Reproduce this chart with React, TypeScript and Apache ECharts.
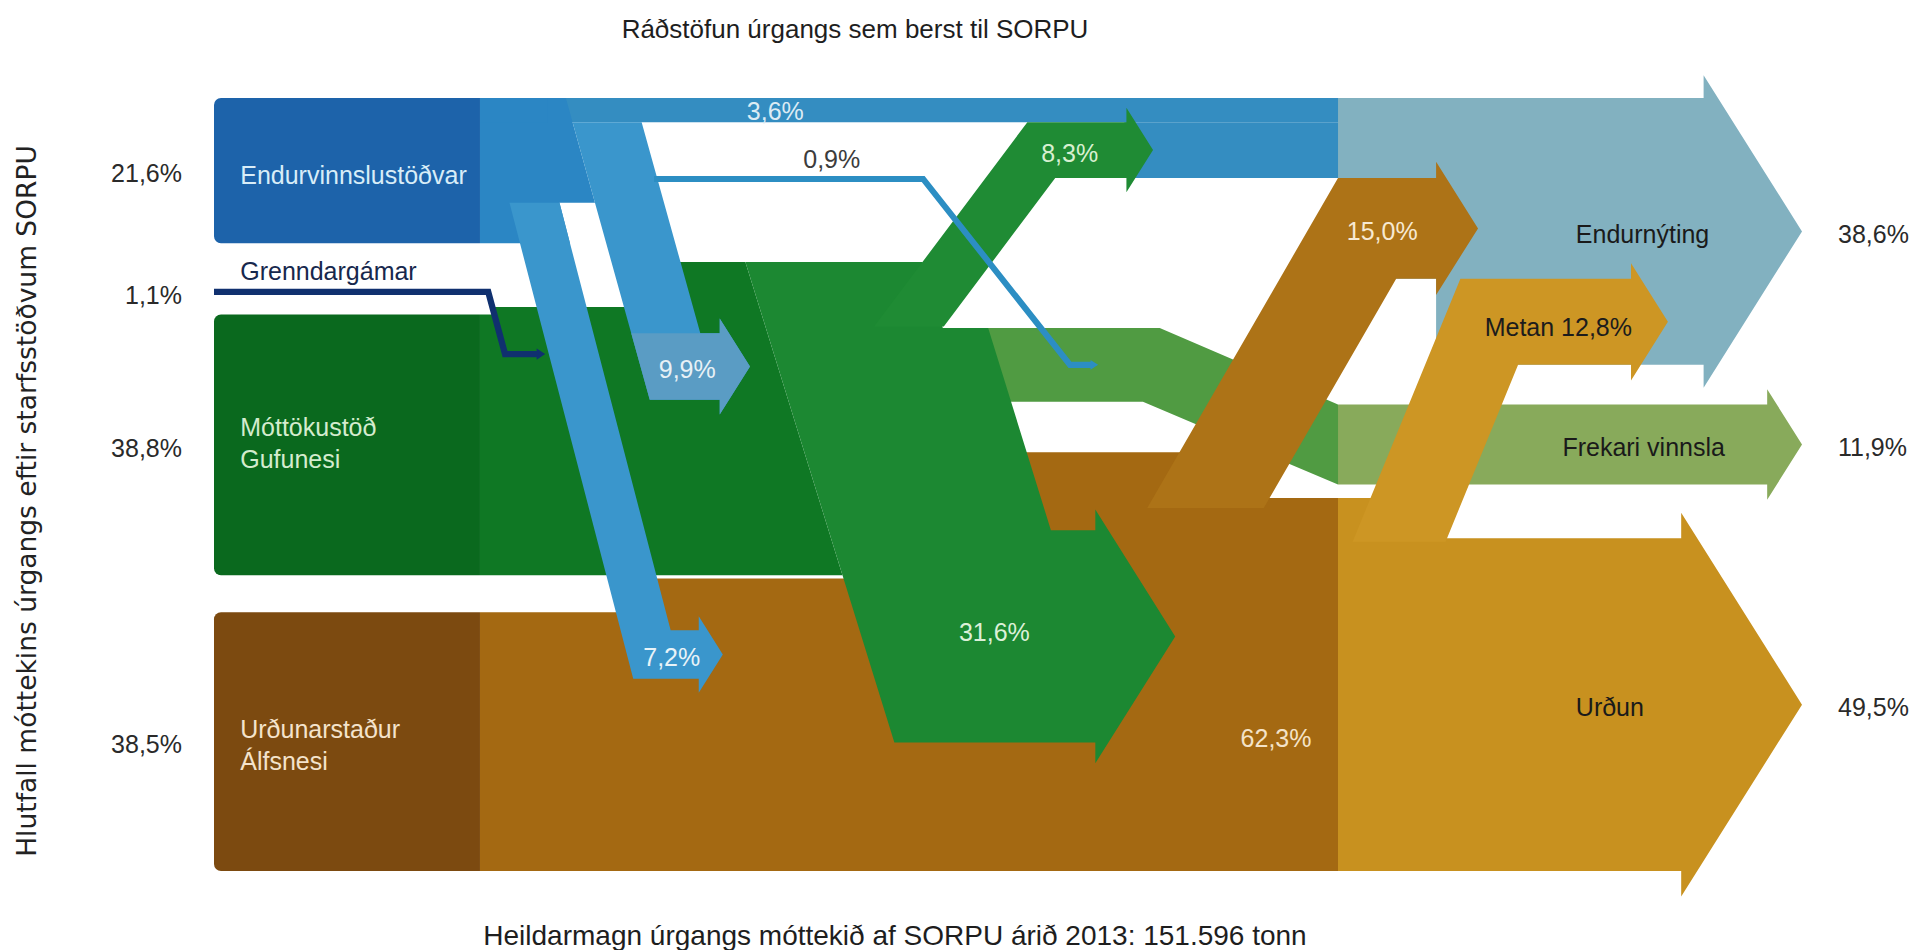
import React, { useEffect, useRef } from "react";
import * as echarts from "echarts";

// ---------------- DATA ----------------
const TITLE_TOP = "Ráðstöfun úrgangs sem berst til SORPU";
const TITLE_BOTTOM = "Heildarmagn úrgangs móttekið af SORPU árið 2013: 151.596 tonn";
const TITLE_LEFT = "Hlutfall móttekins úrgangs eftir starfsstöðvum SORPU";

const SOURCE_NAMES = ["Endurvinnslustöðvar", "Grenndargámar", "Móttökustöð\nGufunesi", "Urðunarstaður\nÁlfsnesi"];
const SOURCE_SHARES = [21.6, 1.1, 38.8, 38.5];

// Endurvinnslustöðvar -> [Endurnýting, Frekari vinnsla, Gufunes, Álfsnes]
const ENDURVINNSLA_FLOWS = [3.6, 0.9, 9.9, 7.2];
// Grenndargámar -> [Gufunes]
const GRENNDAR_FLOWS = [1.1];
// Gufunes -> [Endurnýting, Frekari vinnsla, Álfsnes]
const GUFUNES_FLOWS = [8.3, 11.0, 31.6];
// Álfsnes -> [Endurnýting, Metan, Urðun]
const ALFSNES_FLOWS = [15.0, 12.8, 49.5];
const ALFSNES_FLOW_NAMES = ["", "Metan", ""];
const ALFSNES_REMAINING = [62.3];

const OUTCOME_NAMES = ["Endurnýting", "Frekari vinnsla", "Urðun"];
const OUTCOME_SHARES = [38.6, 11.9, 49.5];

// ---------------- LAYOUT / STYLE ----------------
const L = {
  gridLeft: 214, gridTop: 98, gridHeight: 773, xMax: 245,
  gapsLeft: [6.7, 2.8, 5.5],
  gapRight1: 5.9,
  xDark: 39.57, xLight: 167.22, xTip: 236.25,
  slotDy: 6.0,
  d7: { x0: 45.52, s: 0.26, bodyDy: 2.7, tip: 75.7 },
  d9: { x0: 56.68, s: 0.278, bodyDy: 2.8, tip: 79.74 },
  line09: { dy: 8.45, x1: 105.5, x2: 127.35, x3: 130.6 },
  gren: { x1: 40.8, x2: 43.3, dropDy: 5.9, x3: 48.2, gx: 41.8 },
  hubRise: 7.8, hubLeft: 62,
  d31: { x0: 93.5, s: 0.31, bodyDy: -12.2, tip: 143.0 },
  d8: { x0: 121.0, s: -0.75, tip: 139.7, bottomDy: 9.6 },
  frek: { dy: 9.8, xTop: 140.7, xBot: 138.2 },
  brown: { x1: 65, x2: 100, x3: 150, gapBelowFrek: 2.0, gapBelowM: 0.5 },
  d15: { s: -0.578, tip: 188.05, bottomY: 61 },
  dM: { x0: 169.6, s: -0.41, tip: 216.3 },
  head: { ratio: 1.08, pad: 1.8, len: 0.63 },
  outcomeLabelX: [202.6, 200.6, 202.6],
};

const C = {
  blueDark: "#1d63aa", blueMid: "#2b86c4", blueStrip: "#348dc1", blueDiag: "#3a96cc", blueArrow: "#5a9cc4",
  blueLight: "#82b1c0",
  greenDark: "#0a691e", greenMid: "#0f7824", greenHub: "#1c8832", green83: "#1f8b34",
  frekMid: "#509b42", frekLight: "#88aa5b",
  brownDark: "#7c4a10", brownMid: "#a46912", brown15: "#ad7317", golden: "#c8911f", metan: "#cd9624",
  navy: "#10306f", line09: "#2c8ec3",
};

const FONT = "Liberation Sans, Arial, sans-serif";
const pct = (v: number) => v.toFixed(1).replace(".", ",") + "%";

function renderItem(params: any, api: any) {
  const P = (x: number, y: number) => api.coord([x, y]);
  const K = api.size([0, 1])[1];
  const poly = (pts: number[][], fill: string) => ({
    type: "polygon",
    shape: { points: pts.map((p) => P(p[0], p[1])) },
    style: { fill },
  });
  const rrect = (x0: number, y0: number, x1: number, y1: number, fill: string) => {
    const a = P(x0, y0), b = P(x1, y1);
    return { type: "rect", shape: { x: a[0], y: a[1], width: b[0] - a[0], height: b[1] - a[1], r: [7, 0, 0, 7] }, style: { fill } };
  };
  const line = (pts: number[][], width: number, stroke: string) => ({
    type: "polyline",
    shape: { points: pts.map((p) => P(p[0], p[1])) },
    style: { stroke, lineWidth: width * K, fill: null, lineJoin: "miter", lineCap: "butt" },
  });
  const tinyHead = (x: number, y: number, half: number, fill: string) =>
    poly([[x - 0.2, y - half], [x + half * 1.3, y], [x - 0.2, y + half]], fill);
  const text = (x: number, y: number, t: string, fill: string, align = "center", size = 25, lh?: number) => {
    const p = P(x, y);
    return {
      type: "text", x: p[0], y: p[1],
      style: { text: t, fill, fontSize: size, fontFamily: FONT, align, textAlign: align, verticalAlign: "middle", textVerticalAlign: "middle", lineHeight: lh },
    };
  };
  const head = (top: number, bot: number, tip: number) => {
    const c = (top + bot) / 2;
    const hh = ((bot - top) / 2) * L.head.ratio + L.head.pad;
    const base = tip - L.head.len * hh;
    return { base, pts: [[base, top], [base, c - hh], [tip, c], [base, c + hh], [base, bot]] };
  };
  const sq = (s: number) => Math.sqrt(1 + s * s);

  // left stack
  const [eS, gS, mS, aS] = SOURCE_SHARES;
  const E_top = 0, E_bot = eS;
  const G_top = E_bot + L.gapsLeft[0], G_bot = G_top + gS;
  const M_top = G_bot + L.gapsLeft[1], M_bot = M_top + mS;
  const A_top = M_bot + L.gapsLeft[2], A_bot = A_top + aS;
  const YMAX = A_bot;

  const [e2end, e2frek, e2guf, e2alf] = ENDURVINNSLA_FLOWS;
  const [g2end, g2frek, g2alf] = GUFUNES_FLOWS;
  const [a2end, a2met, a2urd] = ALFSNES_FLOWS;

  // right stack (arrivals into Endurnýting)
  const s1 = E_top + e2end, s2 = s1 + g2end, s3 = s2 + a2end, s4 = s3 + a2met;
  const F_top = s4 + L.gapRight1, F_bot = F_top + OUTCOME_SHARES[1];
  const U_top = YMAX - a2urd, U_bot = YMAX;

  const XD = L.xDark, XL = L.xLight, XT = L.xTip;
  const slotTop = E_bot - L.slotDy;

  const w7 = e2alf * sq(L.d7.s);
  const L7 = (y: number) => L.d7.x0 + L.d7.s * (y - E_bot);
  const R7 = (y: number) => L7(y) + w7;
  const w9 = e2guf * sq(L.d9.s);
  const L9 = (y: number) => L.d9.x0 + L.d9.s * (y - slotTop);
  const R9 = (y: number) => L9(y) + w9;
  const w31 = g2alf * sq(L.d31.s);
  const L31 = (y: number) => L.d31.x0 + L.d31.s * (y - M_bot);
  const R31 = (y: number) => L31(y) + w31;
  const w8 = g2end * sq(L.d8.s);
  const L8 = (y: number) => L.d8.x0 + L.d8.s * (y - s1);
  const R8 = (y: number) => L8(y) + w8;
  const w15 = a2end * sq(L.d15.s);
  const L15 = (y: number) => XL + L.d15.s * (y - s2);
  const R15 = (y: number) => L15(y) + w15;
  const wM = a2met * sq(L.dM.s);
  const ML = (y: number) => L.dM.x0 + L.dM.s * (y - U_top);
  const MR = (y: number) => ML(y) + wM;

  const hubTop = M_top - L.hubRise;
  const FT = hubTop + L.frek.dy, FB = FT + g2frek;
  const BT9 = M_top + L.d9.bodyDy, BB9 = BT9 + e2guf;
  const BT7 = A_top + L.d7.bodyDy, BB7 = BT7 + e2alf;
  const Y31 = A_top + L.d31.bodyDy, Y31b = Y31 + g2alf;
  const brownTopMid = YMAX - ALFSNES_REMAINING[0];
  const brownTopRight = F_bot + L.brown.gapBelowFrek;

  const hE = head(E_top, s4, XT);
  const hF = head(F_top, F_bot, XT);
  const hU = head(U_top, U_bot, XT);
  const h31 = head(Y31, Y31b, L.d31.tip);
  const h8 = head(s1, s2, L.d8.tip);
  const h9 = head(BT9, BB9, L.d9.tip);
  const h7 = head(BT7, BB7, L.d7.tip);
  const h15 = head(s2, s3, L.d15.tip);
  const hM = head(s3, s4, L.dM.tip);

  const y09 = s1 + L.line09.dy;
  const y09end = (FT + FB) / 2;
  const gC = (G_top + G_bot) / 2;
  const gDrop = M_top + L.gren.dropDy;
  const d8b = hubTop + L.d8.bottomDy;

  const children: any[] = [
    // Álfsnes hub
    poly([[XD, A_top], [L.brown.x1, A_top], [L.brown.x1, M_bot + L.brown.gapBelowM], [L.brown.x2, M_bot + L.brown.gapBelowM],
      [L.brown.x2, brownTopMid], [L.brown.x3, brownTopMid], [L.brown.x3, brownTopRight], [XL, brownTopRight], [XL, YMAX], [XD, YMAX]], C.brownMid),
    rrect(0, A_top, XD, A_bot, C.brownDark),
    // Urðun
    poly([[XL, brownTopRight], [ML(brownTopRight) + 3, brownTopRight], [ML(U_top) + 3, U_top], ...hU.pts, [XL, U_bot]], C.golden),
    // Frekari vinnsla destination
    poly([[XL, F_top], ...hF.pts, [XL, F_bot]], C.frekLight),
    // Endurnýting destination
    poly([[XL, E_top], ...hE.pts, [h15.base, s4], [h15.base, s3], [XL, s3]], C.blueLight),
    // Gufunes
    poly([[XD, M_top], [L.gren.gx, M_top], [L.gren.gx, M_top - GRENNDAR_FLOWS[0]], [L.hubLeft, M_top - GRENNDAR_FLOWS[0]],
      [L.hubLeft, hubTop], [L31(hubTop), hubTop], [L31(M_bot), M_bot], [XD, M_bot]], C.greenMid),
    rrect(0, M_top, XD, M_bot, C.greenDark),
    poly([[R31(FT) - 0.5, FT], [L.frek.xTop, FT], [XL, F_top], [XL, F_bot], [L.frek.xBot, FB], [R31(FB) - 0.5, FB]], C.frekMid),
    poly([[L31(hubTop), hubTop], [L8(hubTop), hubTop], [R8(FT), FT], [R31(FT), FT], [R31(Y31), Y31], ...h31.pts, [L31(Y31b), Y31b]], C.greenHub),
    // teal strip into Endurnýting
    poly([[XD, E_top], [XL, E_top], [XL, s1], [XD, s1]], C.blueStrip),
    poly([[h8.base - 0.3, s1], [XL, s1], [XL, s2], [h8.base - 0.3, s2]], C.blueStrip),
    // 8,3% arrow
    poly([[L8(d8b), d8b], [L8(s1), s1], ...h8.pts, [R8(s2), s2], [R8(d8b), d8b]], C.green83),
    // Endurvinnslustöðvar source
    poly([[XD, E_top], [L9(E_top), E_top], [L9(slotTop), slotTop], [R7(slotTop), slotTop], [R7(E_bot), E_bot], [XD, E_bot]], C.blueMid),
    poly([[XD, E_top], [XD + 10, E_top], [XD + 10, s1], [XD, s1]], C.blueMid),
    rrect(0, E_top, XD, E_bot, C.blueDark),
    // 7,2% arrow
    poly([[L7(slotTop), slotTop], [R7(slotTop), slotTop], [R7(BT7), BT7], ...h7.pts, [L7(BB7), BB7]], C.blueDiag),
    // 9,9% arrow
    poly([[L9(s1), s1], [R9(s1), s1], [R9(BT9), BT9], ...h9.pts, [L9(BB9), BB9]], C.blueDiag),
    poly([[L9(BT9), BT9], ...h9.pts, [L9(BB9), BB9]], C.blueArrow),
    // 15,0% arrow
    poly([[L15(L.d15.bottomY), L.d15.bottomY], [L15(s2), s2], ...h15.pts, [R15(s3), s3], [R15(L.d15.bottomY), L.d15.bottomY]], C.brown15),
    // Metan arrow
    poly([[ML(U_top + 0.5), U_top + 0.5], [ML(s3), s3], ...hM.pts, [MR(s4), s4], [MR(U_top + 0.5), U_top + 0.5]], C.metan),
    // thin flows
    line([[0, gC], [L.gren.x1, gC], [L.gren.x2, gDrop], [L.gren.x3, gDrop]], GRENNDAR_FLOWS[0] * 0.85, C.navy),
    tinyHead(L.gren.x3, gDrop, GRENNDAR_FLOWS[0] * 0.75, C.navy),
    line([[R9(y09) - 0.5, y09], [L.line09.x1, y09], [L.line09.x2, y09end], [L.line09.x3, y09end]], e2frek, C.line09),
    tinyHead(L.line09.x3, y09end, e2frek * 0.8, C.line09),
  ];

  const dy = 0.4;
  // flow labels
  children.push(
    text(83.5, (E_top + s1) / 2 + 0.2, pct(e2end), "#dcebf4"),
    text(91.9, y09 - 3.0, pct(e2frek), "#3c3c3c"),
    text(70.4, (BT9 + BB9) / 2 + dy, pct(e2guf), "#e8f1f6"),
    text(68.1, (BT7 + BB7) / 2 + dy, pct(e2alf), "#e8f3f8"),
    text(127.3, (s1 + s2) / 2 + dy, pct(g2end), "#d8f0d0"),
    text(116.1, (Y31 + Y31b) / 2 - 0.6, pct(g2alf), "#dcf0d8"),
    text(173.8, (s2 + s3) / 2 + dy, pct(a2end), "#f7e9d2"),
    text(200.0, (s3 + s4) / 2 + 0.8, ALFSNES_FLOW_NAMES[1] + " " + pct(a2met), "#1c1c1c"),
    text(158.0, 95.2, pct(ALFSNES_REMAINING[0]), "#f4e3c8"),
  );
  // source names + shares
  const srcCenters = [(E_top + E_bot) / 2, gC, (M_top + M_bot) / 2, (A_top + A_bot) / 2];
  const srcColors = ["#d8edf8", "#17284d", "#d4ecce", "#f4e3cc"];
  const srcY = [srcCenters[0] + 0.6, G_top - 2.6, srcCenters[2] - 0.3, srcCenters[3] + 0.5];
  SOURCE_NAMES.forEach((n, i) => {
    children.push(text(3.9, srcY[i], n, srcColors[i], "left", 25, 32));
    children.push(text(-4.76, srcCenters[i] + dy, pct(SOURCE_SHARES[i]), "#2a2a2a", "right"));
  });
  // outcomes
  const outCenters = [(E_top + s4) / 2, (F_top + F_bot) / 2, (U_top + U_bot) / 2];
  OUTCOME_NAMES.forEach((n, i) => {
    children.push(text(L.outcomeLabelX[i], outCenters[i] + dy, n, "#1a1a1a", "left"));
    children.push(text(241.6, outCenters[i] + dy, pct(OUTCOME_SHARES[i]), "#2a2a2a", "left"));
  });

  return { type: "group", children };
}

function buildOption() {
  const YMAX = SOURCE_SHARES.reduce((s, v) => s + v, 0) + L.gapsLeft.reduce((s, v) => s + v, 0);
  const K = L.gridHeight / YMAX;
  return {
    animation: false,
    backgroundColor: "#ffffff",
    grid: { left: L.gridLeft, top: L.gridTop, width: L.xMax * K, height: L.gridHeight },
    xAxis: { type: "value", min: 0, max: L.xMax, show: false },
    yAxis: { type: "value", min: 0, max: YMAX, inverse: true, show: false },
    series: [{ type: "custom", coordinateSystem: "cartesian2d", renderItem, data: [[0, 0]], clip: false, silent: true }],
    graphic: [
      { type: "text", x: 855, y: 29, style: { text: TITLE_TOP, fill: "#1e1e1e", fontSize: 26, fontFamily: FONT, align: "center", textAlign: "center", verticalAlign: "middle", textVerticalAlign: "middle" } },
      { type: "text", x: 895, y: 935, style: { text: TITLE_BOTTOM, fill: "#1e1e1e", fontSize: 28, fontFamily: FONT, align: "center", textAlign: "center", verticalAlign: "middle", textVerticalAlign: "middle" } },
      { type: "text", x: 26, y: 501, rotation: Math.PI / 2, style: { text: TITLE_LEFT, fill: "#222222", fontSize: 26.5, fontFamily: "DejaVu Sans, Verdana, sans-serif", align: "center", textAlign: "center", verticalAlign: "middle", textVerticalAlign: "middle" } },
    ],
  };
}

export default function App() {
  const ref = useRef<HTMLDivElement>(null);
  useEffect(() => {
    if (!ref.current) return;
    const chart = echarts.init(ref.current, null, { renderer: "svg" });
    chart.setOption(buildOption() as any);
    return () => chart.dispose();
  }, []);
  return <div ref={ref} style={{ position: "fixed", left: 0, top: 0, width: 1916, height: 950, background: "#ffffff" }} />;
}
